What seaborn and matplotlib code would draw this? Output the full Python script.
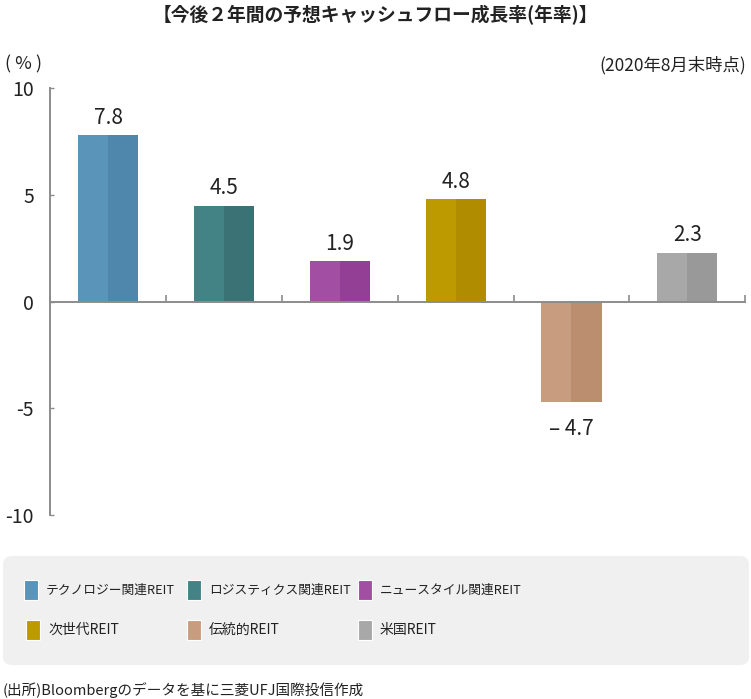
import matplotlib
matplotlib.use("Agg")
import matplotlib.pyplot as plt
from matplotlib.patches import FancyBboxPatch, Rectangle
import seaborn as sns
import pandas as pd

# data
categories = ["テクノロジー関連REIT", "ロジスティクス関連REIT", "ニュースタイル関連REIT",
              "次世代REIT", "伝統的REIT", "米国REIT"]
values = [7.8, 4.5, 1.9, 4.8, -4.7, 2.3]
value_labels = ["7.8", "4.5", "1.9", "4.8", "– 4.7", "2.3"]
light_colors = ["#5b94b9", "#438385", "#a24fa3", "#bd9a00", "#c89c7f", "#a8a8a8"]
dark_colors = ["#4f86ab", "#3b7275", "#923f95", "#b08c00", "#bb8e70", "#999999"]
y_ticks = [-10, -5, 0, 5, 10]

JP = ["Noto Sans CJK JP", "DejaVu Sans"]
NUM = ["Liberation Sans Narrow", "Noto Sans CJK JP", "DejaVu Sans"]
AXIS_GRAY = "#8c8c8c"

sns.set_style("white")
plt.rcParams["font.family"] = JP

# each bar is drawn as two halves (light / dark) side by side
df = pd.DataFrame({
    "cat": categories * 2,
    "val": values * 2,
    "half": ["L"] * len(categories) + ["R"] * len(categories),
})

fig = plt.figure(figsize=(7.51, 6.99), dpi=100)
ax = fig.add_axes([0.0672, 0.263, 0.925, 0.611])

sns.barplot(data=df, x="cat", y="val", hue="half", hue_order=["L", "R"],
            order=categories, width=0.52, gap=0, dodge=True, legend=False,
            errorbar=None, ax=ax, linewidth=0)
for patch, c in zip(ax.containers[0], light_colors):
    patch.set_facecolor(c)
for patch, c in zip(ax.containers[1], dark_colors):
    patch.set_facecolor(c)

ax.set_xlim(-0.5, len(categories) - 0.5)
ax.set_ylim(-10, 10)
ax.set_xlabel("")
ax.set_ylabel("")

# axes styling
for s in ["top", "right"]:
    ax.spines[s].set_visible(False)
ax.spines["bottom"].set_position(("data", 0))
ax.spines["bottom"].set_color(AXIS_GRAY)
ax.spines["bottom"].set_linewidth(1.4)
ax.spines["left"].set_color(AXIS_GRAY)
ax.spines["left"].set_linewidth(1.4)
ax.spines["left"].set_bounds(-10, 10)

ax.set_xticks([i - 0.5 for i in range(len(categories) + 1)])
ax.set_xticklabels([])
ax.tick_params(axis="x", direction="in", length=5, width=1.2, color=AXIS_GRAY,
               bottom=True)
ax.set_yticks(y_ticks)
ax.set_yticklabels([str(t) for t in y_ticks], fontsize=14, family=NUM,
                   color="#222222")
ax.tick_params(axis="y", direction="in", length=3, width=1.0, color=AXIS_GRAY,
               left=True, pad=12)

# value labels
for i, (v, lab) in enumerate(zip(values, value_labels)):
    if v >= 0:
        ax.text(i, v + 0.3, lab, ha="center", va="bottom", fontsize=15,
                family=NUM, color="#222222")
    else:
        ax.text(i, v - 0.75, lab, ha="center", va="top", fontsize=15,
                family=NUM, color="#222222")

# titles and notes
fig.text(0.5, 0.979, "【今後２年間の予想キャッシュフロー成長率(年率)】", ha="center",
         va="center", fontsize=13.5, fontweight="bold", color="#222222")
fig.text(5 / 751, 0.908, "( % )", ha="left", va="center", fontsize=13,
         color="#222222")
fig.text(0.994, 0.906, "(2020年8月末時点)", ha="right", va="center",
         fontsize=12.5, color="#222222")
fig.text(0.003, 0.013, "(出所)Bloombergのデータを基に三菱UFJ国際投信作成",
         ha="left", va="center", fontsize=10.5, color="#222222")

# legend box
W, H = 751.0, 699.0
bg = FancyBboxPatch((3 / W, 1 - 665 / H), 746 / W, 109 / H,
                    boxstyle="round,pad=0,rounding_size=0.012",
                    transform=fig.transFigure, facecolor="#f0f0f0",
                    edgecolor="none", zorder=0)
fig.patches.append(bg)

col_x = [24, 187, 358]
row_y = [590, 630]
row_size = [9.2, 10]
offsets = [0, 0, 0, 2, 0, 0]
for k, (name, c) in enumerate(zip(categories, light_colors)):
    cx = col_x[k % 3] + offsets[k]
    cy = row_y[k // 3]
    sw = Rectangle((cx / W, 1 - (cy + 10) / H), 14 / W, 20 / H,
                   transform=fig.transFigure, facecolor=c, edgecolor="white",
                   linewidth=0.8, zorder=1)
    fig.patches.append(sw)
    fig.text((cx + 22) / W, 1 - cy / H, name, ha="left", va="center",
             fontsize=row_size[k // 3], color="#222222")

fig.savefig("out.png", dpi=100)
